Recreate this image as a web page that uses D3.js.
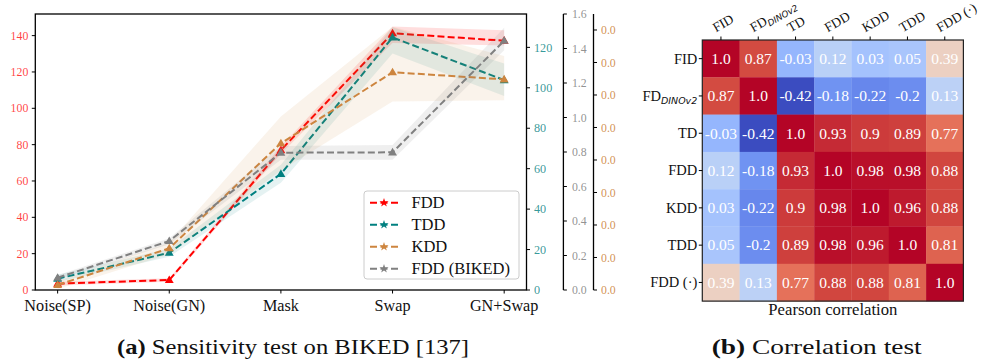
<!DOCTYPE html>
<html>
<head>
<meta charset="utf-8">
<script src="https://cdn.jsdelivr.net/npm/d3@7"></script>
<style>
  html, body { margin: 0; padding: 0; background: #fff; }
  svg { display: block; }
</style>
</head>
<body>
<svg id="chart" width="987" height="359"></svg>
<script>
// ---------------- DATA ----------------
const categories = ["Noise(SP)", "Noise(GN)", "Mask", "Swap", "GN+Swap"];

const fddValues = [3.5, 5.5, 77, 141.3, 137.2];
const fddLow    = [2.5, 4.5, 75, 136, 134.5];
const fddHigh   = [4.5, 6.5, 79, 145, 143];

const tddValues = [5.6, 18.4, 57.4, 124.9, 103.8];
const tddLow    = [4, 16.5, 53, 117, 96];
const tddHigh   = [7.5, 20.5, 62, 130, 112];

const kddValues = [0.00077, 0.00642, 0.02257, 0.0335, 0.0324];
const kddLow    = [0.00015, 0.0055, 0.0184, 0.029, 0.0292];
const kddHigh   = [0.0014, 0.0073, 0.0267, 0.0405, 0.036];

const bikedValues = [0.071, 0.284, 0.796, 0.798, 1.445];
const bikedLow    = [0.06, 0.265, 0.755, 0.755, 1.39];
const bikedHigh   = [0.085, 0.30, 0.835, 0.84, 1.52];

const fddTicks   = [0, 20, 40, 60, 80, 100, 120, 140];
const tddTicks   = [0, 20, 40, 60, 80, 100, 120];
const bikedTicks = [0, 0.2, 0.4, 0.6, 0.8, 1.0, 1.2, 1.4, 1.6];
const kddTicks   = [0, 0.005, 0.01, 0.015, 0.02, 0.025, 0.03, 0.035, 0.04];

const legendLabels = ["FDD", "TDD", "KDD", "FDD (BIKED)"];

const corrLabels = ["FID", "FD_DINOv2", "TD", "FDD", "KDD", "TDD", "FDD (·)"];
const corrFID   = [1.0, 0.87, -0.03, 0.12, 0.03, 0.05, 0.39];
const corrFDdin = [0.87, 1.0, -0.42, -0.18, -0.22, -0.2, 0.13];
const corrTD    = [-0.03, -0.42, 1.0, 0.93, 0.9, 0.89, 0.77];
const corrFDD   = [0.12, -0.18, 0.93, 1.0, 0.98, 0.98, 0.88];
const corrKDD   = [0.03, -0.22, 0.9, 0.98, 1.0, 0.96, 0.88];
const corrTDD   = [0.05, -0.2, 0.89, 0.98, 0.96, 1.0, 0.81];
const corrFDDd  = [0.39, 0.13, 0.77, 0.88, 0.88, 0.81, 1.0];
const corrMatrix = [corrFID, corrFDdin, corrTD, corrFDD, corrKDD, corrTDD, corrFDDd];

const captionA = "Sensitivity test on BIKED [137]";
const captionB = "Correlation test";
const heatXLabel = "Pearson correlation";

// ---------------- SETUP ----------------
const svg = d3.select("#chart");
const SERIF = "Liberation Serif";

const plotL = 35.3, plotR = 526.5, plotT = 14, plotB = 290;

const x = d3.scalePoint().domain(categories).range([plotL, plotR]).padding(0.2);
const yFDD   = d3.scaleLinear().domain([0, 151.9]).range([plotB, plotT]);
const yTDD   = d3.scaleLinear().domain([0, 136.5]).range([plotB, plotT]);
const yBIKED = d3.scaleLinear().domain([0, 1.6]).range([plotB, plotT]);
const yKDD   = d3.scaleLinear().domain([0, 0.04246]).range([plotB, plotT]);

const cRed = "#ff0000", cTeal = "#008080", cPeru = "#cd853f", cGray = "#808080";

const series = [
  {name: legendLabels[0], vals: fddValues, lo: fddLow, hi: fddHigh, y: yFDD, color: cRed, bandOp: 0.13},
  {name: legendLabels[1], vals: tddValues, lo: tddLow, hi: tddHigh, y: yTDD, color: cTeal, bandOp: 0.1},
  {name: legendLabels[2], vals: kddValues, lo: kddLow, hi: kddHigh, y: yKDD, color: cPeru, bandOp: 0.1},
  {name: legendLabels[3], vals: bikedValues, lo: bikedLow, hi: bikedHigh, y: yBIKED, color: cGray, bandOp: 0.13}
];

const gPlot = svg.append("g");
const tri = d3.symbol().type(d3.symbolTriangle).size(34);

series.forEach(s => {
  const idx = categories.map((c, i) => i);
  const area = d3.area()
    .x(i => x(categories[i]))
    .y0(i => s.y(s.lo[i]))
    .y1(i => s.y(s.hi[i]));
  gPlot.append("path").attr("d", area(idx))
    .attr("fill", s.color).attr("fill-opacity", s.bandOp).attr("stroke", "none");
  const line = d3.line().x(i => x(categories[i])).y(i => s.y(s.vals[i]));
  gPlot.append("path").attr("d", line(idx))
    .attr("fill", "none").attr("stroke", s.color).attr("stroke-width", 2)
    .attr("stroke-dasharray", "7,3.2");
  gPlot.selectAll(null).data(idx).enter().append("path")
    .attr("d", tri)
    .attr("transform", i => `translate(${x(categories[i])},${s.y(s.vals[i]) + 0.5})`)
    .attr("fill", s.color);
});

// frame
gPlot.append("rect").attr("x", plotL).attr("y", plotT)
  .attr("width", plotR - plotL).attr("height", plotB - plotT)
  .attr("fill", "none").attr("stroke", "#000").attr("stroke-width", 1.3);

// x axis ticks
const gx = svg.append("g");
categories.forEach(c => {
  gx.append("line").attr("x1", x(c)).attr("x2", x(c)).attr("y1", plotB).attr("y2", plotB + 3.5)
    .attr("stroke", "#000").attr("stroke-width", 1);
  gx.append("text").attr("x", x(c)).attr("y", 311).attr("text-anchor", "middle")
    .attr("font-family", SERIF).attr("font-size", 16.2).attr("fill", "#111").text(c);
});

const TICKFS = 11.8;
// left y axis (FDD)
fddTicks.forEach(t => {
  const yy = yFDD(t);
  svg.append("line").attr("x1", plotL - 3.5).attr("x2", plotL).attr("y1", yy).attr("y2", yy)
    .attr("stroke", "#000");
  svg.append("text").attr("x", plotL - 7).attr("y", yy).attr("dy", "0.34em")
    .attr("text-anchor", "end").attr("font-family", SERIF).attr("font-size", TICKFS)
    .attr("fill", cRed).attr("fill-opacity", 0.75).text(d3.format("d")(t));
});

// right axis (TDD) on frame
tddTicks.forEach(t => {
  const yy = yTDD(t);
  svg.append("line").attr("x1", plotR).attr("x2", plotR + 3.5).attr("y1", yy).attr("y2", yy)
    .attr("stroke", "#000");
  svg.append("text").attr("x", plotR + 7.5).attr("y", yy).attr("dy", "0.34em")
    .attr("font-family", SERIF).attr("font-size", TICKFS + 0.4)
    .attr("fill", cTeal).attr("fill-opacity", 0.8).text(d3.format("d")(t));
});

// gray axis
const grayX = 563.4;
svg.append("line").attr("x1", grayX).attr("x2", grayX).attr("y1", plotT).attr("y2", plotB)
  .attr("stroke", "#000").attr("stroke-width", 1.3);
bikedTicks.forEach(t => {
  const yy = yBIKED(t);
  svg.append("line").attr("x1", grayX).attr("x2", grayX + 3.5).attr("y1", yy).attr("y2", yy)
    .attr("stroke", "#000");
  svg.append("text").attr("x", grayX + 8.5).attr("y", yy).attr("dy", "0.34em")
    .attr("font-family", SERIF).attr("font-size", TICKFS)
    .attr("fill", cGray).attr("fill-opacity", 0.85).text(d3.format(".1f")(t));
});

// orange axis
const kddX = 593.5;
svg.append("line").attr("x1", kddX).attr("x2", kddX).attr("y1", plotT).attr("y2", plotB)
  .attr("stroke", "#000").attr("stroke-width", 1.3);
kddTicks.forEach(t => {
  const yy = yKDD(t);
  svg.append("line").attr("x1", kddX).attr("x2", kddX + 3.5).attr("y1", yy).attr("y2", yy)
    .attr("stroke", "#000");
  svg.append("text").attr("x", kddX + 7.5).attr("y", yy).attr("dy", "0.34em")
    .attr("font-family", SERIF).attr("font-size", TICKFS)
    .attr("fill", cPeru).attr("fill-opacity", 0.9).text(d3.format(".1f")(t));
});

// legend
const lg = svg.append("g");
lg.append("rect").attr("x", 364).attr("y", 191).attr("width", 155).attr("height", 88)
  .attr("rx", 3).attr("fill", "#fff").attr("fill-opacity", 0.8)
  .attr("stroke", "#cccccc").attr("stroke-width", 1);
const star = d3.symbol().type(d3.symbolStar).size(26);
series.forEach((s, i) => {
  const yy = 202.7 + i * 22;
  lg.append("line").attr("x1", 370).attr("x2", 398).attr("y1", yy).attr("y2", yy)
    .attr("stroke", s.color).attr("stroke-width", 2).attr("stroke-dasharray", "7,3.5");
  lg.append("path").attr("d", star).attr("transform", `translate(384,${yy})`).attr("fill", s.color);
  lg.append("text").attr("x", 411.5).attr("y", yy).attr("dy", "0.35em")
    .attr("font-family", SERIF).attr("font-size", 16.5).attr("fill", "#111").text(s.name);
});

// caption (a)
const capA = svg.append("text").attr("x", 293).attr("y", 353.5).attr("text-anchor", "middle")
  .attr("font-family", SERIF).attr("font-size", 22).attr("fill", "#111")
  .attr("textLength", 352).attr("lengthAdjust", "spacingAndGlyphs");
capA.append("tspan").attr("font-weight", "bold").text("(a)");
capA.append("tspan").text(" " + captionA);

// ---------------- HEATMAP ----------------
const hmL = 702.3, hmT = 40, cell = 37.3;
const n = corrLabels.length;
const hx = d3.scaleBand().domain(d3.range(n)).range([hmL, hmL + n * cell]);
const hy = d3.scaleBand().domain(d3.range(n)).range([hmT, hmT + n * cell]);

const coolwarmStops = ["#3b4cc0", "#5977e3", "#7b9ff9", "#9ebeff", "#c0d4f5", "#dddcdc",
                       "#f2cbb7", "#f7ac8e", "#ee8468", "#d65244", "#b40426"];
const coolwarm = d3.piecewise(d3.interpolateRgb, coolwarmStops);
const allVals = corrMatrix.flat();
const vmin = d3.min(allVals), vmax = d3.max(allVals);
const cnorm = d3.scaleLinear().domain([vmin, vmax]).range([0, 1]);

const gh = svg.append("g");
corrMatrix.forEach((row, r) => {
  row.forEach((v, c) => {
    gh.append("rect").attr("x", hx(c)).attr("y", hy(r))
      .attr("width", hx.bandwidth() + 0.3).attr("height", hy.bandwidth() + 0.3)
      .attr("fill", coolwarm(cnorm(v)));
    gh.append("text").attr("x", hx(c) + cell / 2).attr("y", hy(r) + cell / 2).attr("dy", "0.34em")
      .attr("text-anchor", "middle").attr("font-family", SERIF).attr("font-size", 15.5)
      .attr("fill", "#fff").text(Number.isInteger(v) ? v.toFixed(1) : String(v));
  });
});
gh.append("rect").attr("x", hmL).attr("y", hmT).attr("width", n * cell).attr("height", n * cell)
  .attr("fill", "none").attr("stroke", "#222").attr("stroke-width", 1.2);

function addLabel(sel, lab, subSize, subDy) {
  if (lab === "FD_DINOv2") {
    sel.append("tspan").text("FD");
    sel.append("tspan").attr("font-family", "DejaVu Sans").attr("font-style", "italic")
      .attr("font-size", subSize).attr("dy", subDy).text("DINOv2");
  } else {
    sel.text(lab);
  }
}

corrLabels.forEach((lab, i) => {
  const cy = hy(i) + cell / 2;
  gh.append("line").attr("x1", hmL - 3.5).attr("x2", hmL).attr("y1", cy).attr("y2", cy).attr("stroke", "#000");
  const t = gh.append("text").attr("x", hmL - 5).attr("y", cy).attr("dy", "0.34em")
    .attr("text-anchor", "end").attr("font-family", SERIF).attr("font-size", 14.5).attr("fill", "#111");
  addLabel(t, lab, 9.5, 3.5);

  const cx = hx(i) + cell / 2;
  gh.append("line").attr("x1", cx).attr("x2", cx).attr("y1", hmT - 3.5).attr("y2", hmT).attr("stroke", "#000");
  const tc = gh.append("text").attr("transform", `translate(${cx - 5},${32.5}) rotate(-30)`)
    .attr("font-family", SERIF).attr("font-size", 13.5).attr("fill", "#111");
  addLabel(tc, lab, 8.8, 3);
});

svg.append("text").attr("x", hmL + n * cell / 2).attr("y", 314.5).attr("text-anchor", "middle")
  .attr("font-family", SERIF).attr("font-size", 16).attr("fill", "#111")
  .attr("textLength", 129).attr("lengthAdjust", "spacingAndGlyphs").text(heatXLabel);

const capB = svg.append("text").attr("x", 816.7).attr("y", 353.5).attr("text-anchor", "middle")
  .attr("font-family", SERIF).attr("font-size", 22).attr("fill", "#111")
  .attr("textLength", 210).attr("lengthAdjust", "spacingAndGlyphs");
capB.append("tspan").attr("font-weight", "bold").text("(b)");
capB.append("tspan").text(" " + captionB);
</script>
</body>
</html>
